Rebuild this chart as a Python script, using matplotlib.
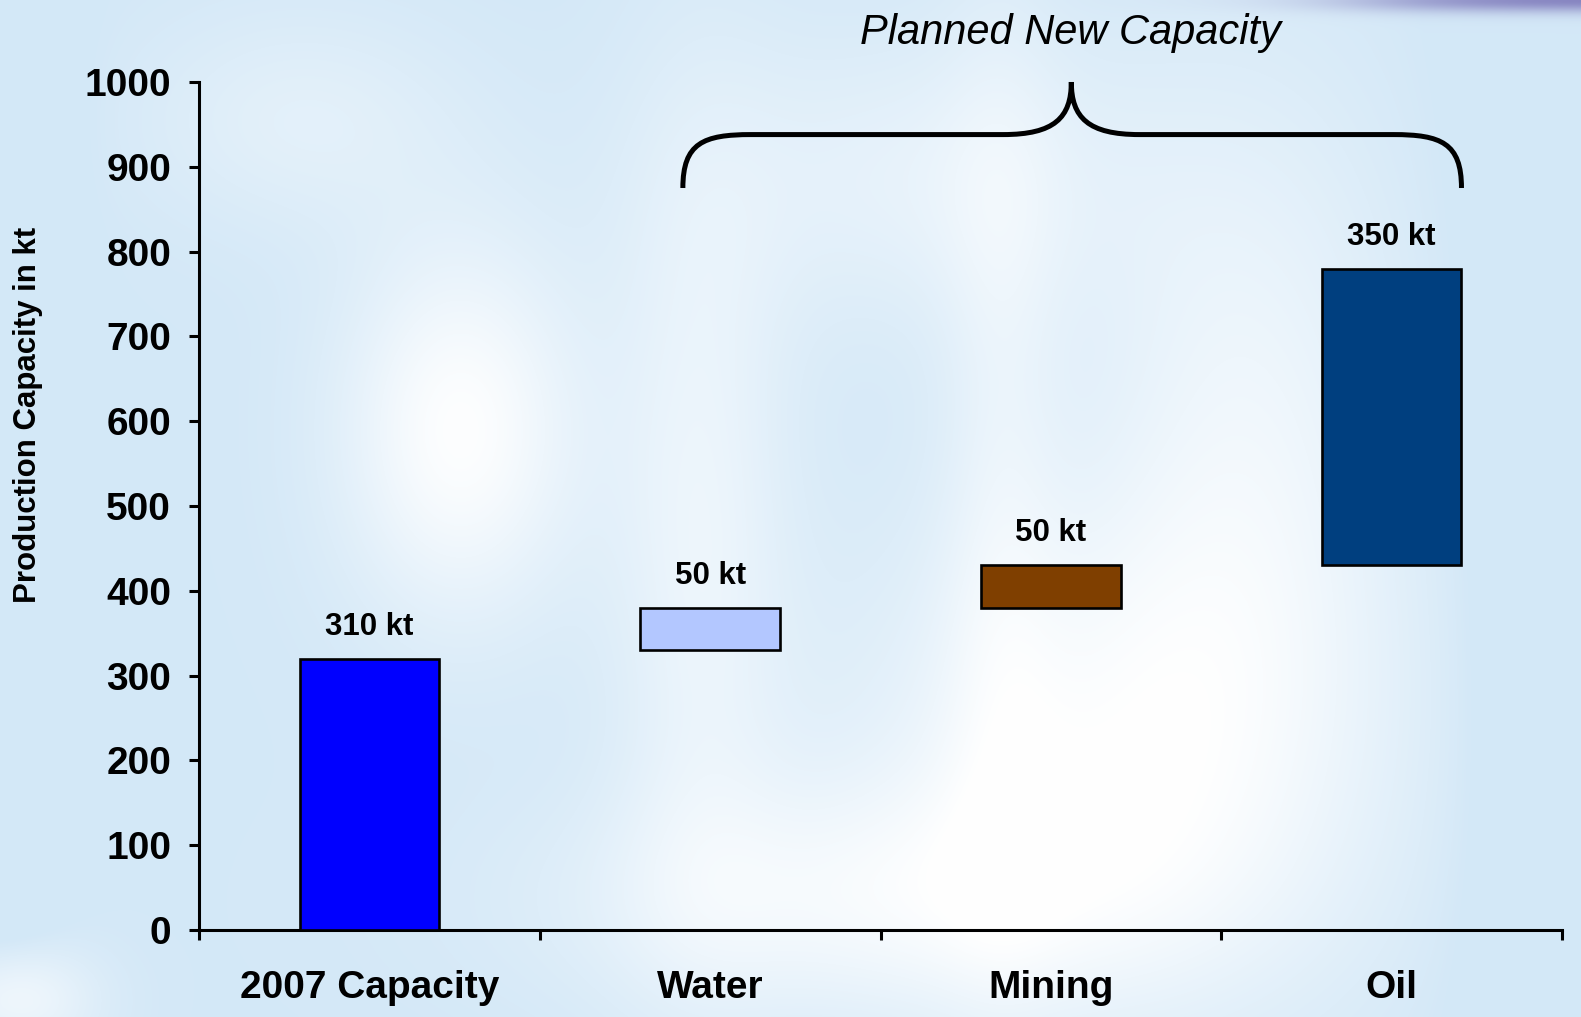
import numpy as np
import matplotlib
matplotlib.use("Agg")
import matplotlib.pyplot as plt
from matplotlib.path import Path
from matplotlib.patches import PathPatch

# ---- data ----
categories = ["2007 Capacity", "Water", "Mining", "Oil"]
bottoms = [0, 330, 380, 430]
heights = [320, 50, 50, 350]
value_labels = ["310 kt", "50 kt", "50 kt", "350 kt"]
bar_colors = ["#0000FF", "#B3C7FF", "#7F3F00", "#003F7F"]
yticks = [0, 100, 200, 300, 400, 500, 600, 700, 800, 900, 1000]

plt.rcParams['font.family'] = ['Liberation Sans', 'DejaVu Sans']

W, H = 1581, 1017
fig = plt.figure(figsize=(W / 100, H / 100), dpi=100)

# ---- background ----
bg = fig.add_axes([0, 0, 1, 1], zorder=-10)
yy, xx = np.mgrid[0:H, 0:W].astype(float)
base = np.array([0.83, 0.91, 0.97])
blobs = [(460, 430, 120, 190, 0.95), (700, 520, 90, 420, 0.55),
         (1120, 760, 260, 260, 0.85), (1250, 420, 160, 330, 0.55),
         (930, 180, 230, 150, 0.45), (300, 120, 160, 110, 0.35),
         (850, 900, 300, 120, 0.6), (1000, 450, 60, 500, 0.35),
         (20, 1000, 80, 60, 0.6)]
w = np.zeros((H, W))
for cx, cy, sx, sy, a in blobs:
    w += a * np.exp(-(((xx - cx) / sx) ** 2 + ((yy - cy) / sy) ** 2))
w = np.clip(w, 0, 1)
edge = np.exp(-(xx / 60.0) ** 2) * 0.5 * (1 - np.exp(-((yy - 1000) / 80.0) ** 2)) \
    + (1 / (1 + np.exp(-(xx - 1500) / 30.0))) * 0.6
w = np.clip(w - edge, 0, 1)
img = base[None, None, :] * (1 - w[..., None]) + w[..., None]
p = np.exp(-(yy / 12.0) ** 2) * (1 / (1 + np.exp(-(xx - 1380) / 60.0))) * 0.75
purple = np.array([0.42, 0.38, 0.68])
img = img * (1 - p[..., None]) + purple[None, None, :] * p[..., None]
bg.imshow(img, aspect='auto', extent=[0, 1, 0, 1])
bg.axis('off')

# ---- main axes ----
left = 199 / W
right = 1562 / W
bottom = 1 - 930 / H
top = 1 - 82 / H
ax = fig.add_axes([left, bottom, right - left, top - bottom])
ax.patch.set_alpha(0)

x = np.arange(len(categories))
ax.bar(x, heights, bottom=bottoms, width=0.41, color=bar_colors,
       edgecolor='black', linewidth=1.9, zorder=3)

for xi, b, h, lab in zip(x, bottoms, heights, value_labels):
    ax.annotate(lab, xy=(xi, b + h), xytext=(0, 23), textcoords='offset points',
                ha='center', va='center', fontsize=22.5, fontweight='bold')

ax.set_xlim(-0.5, len(categories) - 0.5)
ax.set_ylim(0, 1000)
ax.set_yticks(yticks)
ax.set_yticklabels([str(v) for v in yticks], fontsize=28, fontweight='bold')

ax.set_xticks(np.arange(len(categories) + 1) - 0.5)
ax.set_xticklabels([])
ax.set_xticks(x, minor=True)
ax.set_xticklabels(categories, minor=True, fontsize=28, fontweight='bold')
ax.tick_params(axis='x', which='minor', length=0, pad=29)
ax.tick_params(axis='x', which='major', direction='out', length=7, width=2.2)
ax.tick_params(axis='y', direction='out', length=7, width=2.2, pad=13)

for s in ['top', 'right']:
    ax.spines[s].set_visible(False)
for s in ['left', 'bottom']:
    ax.spines[s].set_linewidth(2.2)

fig.text(28 / W, 1 - 415 / H, "Production Capacity in kt", rotation=90,
         ha='center', va='center', fontsize=22.5, fontweight='bold')

# ---- brace annotation ----
xl, xr, xm = 0.92, 3.205, 2.06
yb, yh, yp = 875, 938, 1000
dx = 0.2
verts = [(xl, yb), (xl, yh - 10), (xl + 0.06, yh), (xl + dx, yh),
         (xm - dx, yh),
         (xm - 0.05, yh), (xm, yh + 20), (xm, yp),
         (xm, yh + 20), (xm + 0.05, yh), (xm + dx, yh),
         (xr - dx, yh),
         (xr - 0.06, yh), (xr, yh - 10), (xr, yb)]
codes = [Path.MOVETO, Path.CURVE4, Path.CURVE4, Path.CURVE4,
         Path.LINETO,
         Path.CURVE4, Path.CURVE4, Path.CURVE4,
         Path.CURVE4, Path.CURVE4, Path.CURVE4,
         Path.LINETO,
         Path.CURVE4, Path.CURVE4, Path.CURVE4]
ax.add_patch(PathPatch(Path(verts, codes), fill=False, lw=3.6,
                       edgecolor='black', clip_on=False, capstyle='butt'))

fig.text(1071 / W, 1 - 33 / H, "Planned New Capacity", ha='center', va='center',
         fontsize=30, style='italic')

fig.savefig("out.png", dpi=100)
